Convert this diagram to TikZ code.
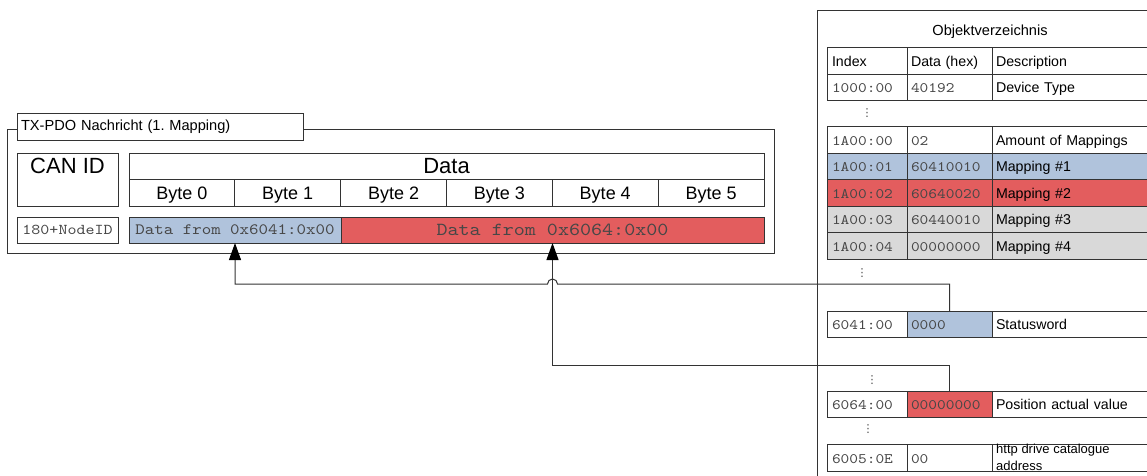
\documentclass[tikz,border=0pt]{standalone}
\usepackage{fontspec}
\setmainfont{Liberation Sans}
\setmonofont{lmmono10-regular}[Extension=.otf, FakeStretch=1.143]
\newfontfamily\djv{DejaVu Sans}
\usetikzlibrary{arrows.meta}
\definecolor{mblue}{HTML}{B0C3DC}
\definecolor{mred}{HTML}{E35D5E}
\definecolor{mgrey}{HTML}{D9D9D9}
\definecolor{lnc}{HTML}{333333}
\definecolor{monoc}{HTML}{474747}
\newcommand\fs[1]{\fontsize{#1}{#1}\selectfont}
\frenchspacing
\tikzset{
  box/.style={draw=lnc, line width=1pt, inner sep=0pt, outer sep=0pt, anchor=north west},
  cellt/.style={text height=11.5pt, text depth=0.5pt},
  ci/.style={box, cellt, minimum height=26pt, text width=70pt, inner xsep=5pt, align=left, font=\ttfamily\fs{14.5}, text=monoc},
  cd/.style={box, cellt, minimum height=26pt, text width=77pt, inner xsep=4pt, align=left, font=\ttfamily\fs{14.5}, text=monoc},
  cx/.style={box, cellt, minimum height=26pt, text width=160pt, inner xsep=4pt, align=left, font=\fs{14.2}},
  bytec/.style={box, minimum width=105.83pt, minimum height=27pt, text height=13pt, text depth=0pt, font=\fs{18}},
  conn/.style={draw=lnc, line width=1pt},
  tip/.style={-{Triangle[length=17pt,width=12pt,fill=black,color=black]}},
  dots/.style={inner sep=0pt, text=monoc, font=\djv\fs{11}},
}
\begin{document}
\begin{tikzpicture}[x=1pt,y=-1pt]
\clip (0,0) rectangle (1147,475);
\useasboundingbox (0,0) rectangle (1147,475);
\fill[white] (0,0) rectangle (1147,475);

% ---------- left: TX-PDO message ----------
\node[box, minimum width=767pt, minimum height=124pt] (frame) at (7,129) {};
\node[box, fill=white, minimum width=286pt, minimum height=27pt, text width=278pt, inner xsep=4pt, align=left, font=\fs{14.6}] (title) at (17,113) {TX-PDO Nachricht (1. Mapping)};

\node[box, minimum width=101pt, minimum height=53pt] (canid) at (17,153) {};
\node[font=\fs{22}, inner sep=0pt] (canidt) at (67.5,166) {CAN ID};
\node[box, minimum width=635pt, minimum height=26pt, font=\fs{22}] (datah) at (129,153) {Data};
\node[bytec] (b0) at (129,179) {Byte 0};
\node[bytec] (b1) at (234.83,179) {Byte 1};
\node[bytec] (b2) at (340.67,179) {Byte 2};
\node[bytec] (b3) at (446.5,179) {Byte 3};
\node[bytec] (b4) at (552.33,179) {Byte 4};
\node[bytec] (b5) at (658.17,179) {Byte 5};

\node[box, minimum width=101pt, minimum height=26pt, font=\ttfamily\fs{15}, text=monoc] (nodeid) at (17,217) {180+NodeID};
\node[box, fill=mblue, minimum width=212pt, minimum height=26pt, font=\ttfamily\fs{15.8}, text=monoc] (data1) at (129,217) {Data from 0x6041:0x00};
\node[box, fill=mred, minimum width=423pt, minimum height=26pt, font=\ttfamily\fs{18.4}, text=monoc] (data2) at (341,217) {Data from 0x6064:0x00};

% ---------- right: object dictionary ----------
\draw[conn] (817,480) -- (817,10) -- (1160,10);
\node[font=\fs{14.6}] (odtitle) at (990,32) {Objektverzeichnis};

\node[ci, minimum height=27pt, font=\fs{14.2}, text=black] (hi) at (827,47) {Index};
\node[cd, minimum height=27pt, font=\fs{14.2}, text=black] (hd) at (907,47) {Data (hex)};
\node[cx, minimum height=27pt] (hx) at (992,47) {Description};

\node[ci] (i1000) at (827,74) {1000:00};
\node[cd] (d1000) at (907,74) {40192};
\node[cx] (x1000) at (992,74) {Device Type};

\node[dots] (dots1) at (867,113) {⋮};

\node[ci, minimum height=27pt] (i1a0) at (827,126) {1A00:00};
\node[cd, minimum height=27pt] (d1a0) at (907,126) {02};
\node[cx, minimum height=27pt] (x1a0) at (992,126) {Amount of Mappings};

\node[ci, fill=mblue] (i1a1) at (827,153) {1A00:01};
\node[cd, fill=mblue] (d1a1) at (907,153) {60410010};
\node[cx, fill=mblue] (x1a1) at (992,153) {Mapping \#1};

\node[ci, fill=mred, minimum height=27pt] (i1a2) at (827,179) {1A00:02};
\node[cd, fill=mred, minimum height=27pt] (d1a2) at (907,179) {60640020};
\node[cx, fill=mred, minimum height=27pt] (x1a2) at (992,179) {Mapping \#2};

\node[ci, fill=mgrey] (i1a3) at (827,206) {1A00:03};
\node[cd, fill=mgrey] (d1a3) at (907,206) {60440010};
\node[cx, fill=mgrey] (x1a3) at (992,206) {Mapping \#3};

\node[ci, fill=mgrey, minimum height=27pt] (i1a4) at (827,232) {1A00:04};
\node[cd, fill=mgrey, minimum height=27pt] (d1a4) at (907,232) {00000000};
\node[cx, fill=mgrey, minimum height=27pt] (x1a4) at (992,232) {Mapping \#4};

\node[dots] (dots2) at (862,273) {⋮};

\node[ci] (i6041) at (827,311) {6041:00};
\node[cd, fill=mblue] (d6041) at (907,311) {0000};
\node[cx] (x6041) at (992,311) {Statusword};

\node[dots] (dots3) at (872,380) {⋮};

\node[ci] (i6064) at (827,391) {6064:00};
\node[cd, fill=mred] (d6064) at (907,391) {00000000};
\node[cx] (x6064) at (992,391) {Position actual value};

\node[dots] (dots4) at (868,429) {⋮};

\node[ci, minimum height=27pt] (i6005) at (827,444) {6005:0E};
\node[cd, minimum height=27pt] (d6005) at (907,444) {00};
\node[cx, minimum height=27pt] (x6005) at (992,444) {};
\node[anchor=west, inner sep=0pt, align=left, font=\fontsize{13}{17}\selectfont] (x6005t) at (996,457) {http drive catalogue\\address};

% ---------- connectors ----------
\coordinate (jr) at (557.5,284);
\draw[conn, tip] (d6041.north) |- (jr)
   arc[start angle=0, end angle=180, radius=5pt] -| (data1.south);
\draw[conn, tip] (d6064.north) -- ++(0,-26) -| (data2.south);
\end{tikzpicture}
\end{document}
